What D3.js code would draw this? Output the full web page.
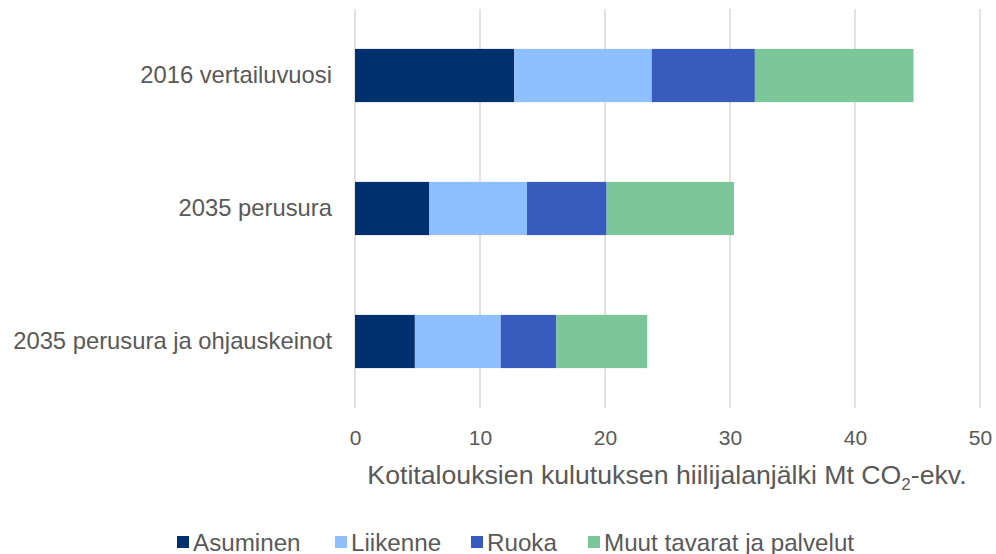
<!DOCTYPE html>
<html><head><meta charset="utf-8">
<script src="https://cdn.jsdelivr.net/npm/d3@7"></script>
<style>body{margin:0;background:#fff}svg{display:block}text{font-family:"Liberation Sans",Arial,sans-serif;fill:#595959}</style>
</head><body>
<svg id="c" width="996" height="554"></svg>
<script>
const categories = ["2016 vertailuvuosi", "2035 perusura", "2035 perusura ja ohjauskeinot"];
const seriesNames = ["Asuminen", "Liikenne", "Ruoka", "Muut tavarat ja palvelut"];
const asuminen = [12.74, 5.95, 4.79];
const liikenne = [11.0, 7.81, 6.87];
const ruoka = [8.25, 6.37, 4.45];
const muut = [12.69, 10.19, 7.27];
const xTicks = [0, 10, 20, 30, 40, 50];
const colors = ["#00306E", "#8FBFFF", "#385BBE", "#7BC79A"];

const values = [asuminen, liikenne, ruoka, muut];
const rows = categories.map((c, i) => {
  const r = {cat: c};
  seriesNames.forEach((s, j) => r[s] = values[j][i]);
  return r;
});
const stacked = d3.stack().keys(seriesNames)(rows);

const svg = d3.select("#c");
const FONT = '"Liberation Sans",Arial,sans-serif';
const pLeft = 355, pRight = 980, pTop = 9, pBottom = 408;
const x = d3.scaleLinear().domain([0, 50]).range([pLeft, pRight]);
const y = d3.scaleBand().domain(categories).range([pTop, pBottom]).paddingInner(0.6).paddingOuter(0.3);

// gridlines
svg.append("g").selectAll("line").data(xTicks).join("line")
  .attr("x1", d => x(d)).attr("x2", d => x(d))
  .attr("y1", pTop).attr("y2", pBottom)
  .attr("stroke", "#d9d9d9").attr("stroke-width", 1.5);

// bars
svg.append("g").selectAll("g").data(stacked).join("g")
  .attr("fill", (d, i) => colors[i])
  .selectAll("rect").data(d => d).join("rect")
  .attr("x", d => x(d[0])).attr("width", d => x(d[1]) - x(d[0]))
  .attr("y", d => y(d.data.cat)).attr("height", y.bandwidth());

// x axis labels
const xAxis = d3.axisBottom(x).tickValues(xTicks).tickSize(0).tickPadding(0);
const gx = svg.append("g").attr("transform", `translate(0,445)`).call(xAxis);
gx.select(".domain").remove();
gx.selectAll("text").attr("font-size", 21).attr("fill", "#595959")
  .style("font-family", FONT).attr("dy", 0);

// y axis labels
const yAxis = d3.axisLeft(y).tickSize(0).tickPadding(23);
const gy = svg.append("g").attr("transform", `translate(${pLeft},0)`).call(yAxis);
gy.select(".domain").remove();
gy.selectAll("text").attr("font-size", 23.8).attr("fill", "#595959")
  .style("font-family", FONT);

// axis title
const t = svg.append("text").attr("x", 667).attr("y", 484).attr("text-anchor", "middle")
  .attr("font-size", 26.7);
t.append("tspan").text("Kotitalouksien kulutuksen hiilijalanjälki Mt CO");
t.append("tspan").attr("font-size", 17).attr("dy", 6).text("2");
t.append("tspan").attr("dy", -6).text("-ekv.");

// legend
const legX = [177, 335, 471, 588];
const leg = svg.append("g").selectAll("g").data(seriesNames).join("g")
  .attr("transform", (d, i) => `translate(${legX[i]},536)`);
leg.append("rect").attr("width", 12).attr("height", 12).attr("fill", (d, i) => colors[i]);
leg.append("text").attr("x", 16).attr("y", 14.5).attr("font-size", 24.2).text(d => d);
</script>
</body></html>
